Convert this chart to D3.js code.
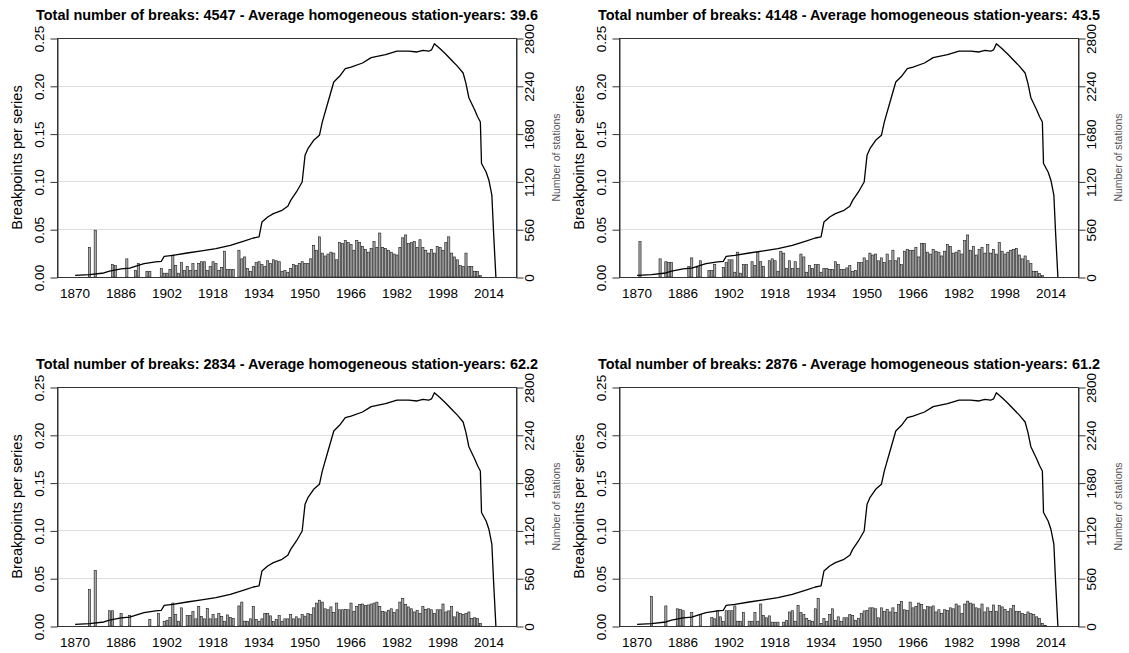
<!DOCTYPE html>
<html><head><meta charset="utf-8">
<script src="https://cdn.jsdelivr.net/npm/d3@7"></script>
<style>body{margin:0;background:#fff}svg{display:block}</style>
</head><body><svg id="c" width="1129" height="653"></svg>
<script>
// ---------- data ----------
const firstYear = 1870; // bar values below run yearly from 1870 to 2012
const xTickYears = [1870,1886,1902,1918,1934,1950,1966,1982,1998,2014];
const leftTicks = [0,0.05,0.10,0.15,0.20,0.25];
const rightTicks = [0,560,1120,1680,2240,2800];
const gridValues = [0.05,0.10,0.15,0.20];
const titles = [
  "Total number of breaks: 4547 - Average homogeneous station-years: 39.6",
  "Total number of breaks: 4148 - Average homogeneous station-years: 43.5",
  "Total number of breaks: 2834 - Average homogeneous station-years: 62.2",
  "Total number of breaks: 2876 - Average homogeneous station-years: 61.2"
];
const yLabel = "Breakpoints per series";
const y2Label = "Number of stations";

const breaks1 = [
  0,0,0,0,0,.031,0,.049,0,0,
  0,0,0,.013,.012,0,0,0,.019,0,
  0,.007,.014,0,0,.006,.006,0,0,0,
  .009,.004,.004,.008,.023,.012,.004,.015,.007,.011,
  .007,.014,.007,.014,.016,.016,.007,.011,.016,.014,
  .007,.010,.027,.008,.008,.008,0,.028,.019,.021,
  .009,.006,.011,.015,.016,.013,.011,.017,.014,.018,
  .017,.016,.006,.007,.005,.009,.013,.012,.014,.016,
  .014,.014,.019,.033,.028,.042,.025,.022,.024,.026,
  .025,.018,.036,.035,.038,.036,.034,.028,.038,.036,
  .032,.029,.026,.030,.037,.031,.046,.031,.030,.028,
  .026,.024,.023,.031,.041,.044,.035,.036,.037,.031,
  .039,.031,.028,.025,.029,.025,.032,.031,.028,.036,
  .042,.025,.021,.018,.012,.011,.025,.011,.011,.006,
  .006,.0014,0
];
const breaks2 = [
  0,.037,0,0,0,0,0,0,.019,0,
  .016,.015,.015,0,0,0,0,0,.011,.020,
  0,.010,.017,0,0,.007,.007,.013,0,0,
  .010,.015,.018,.018,.005,.026,.004,.013,.013,0,
  .016,.012,.026,.016,.011,0,.017,.019,.017,.006,
  .027,.025,.009,.017,.009,.016,.009,.024,.021,.005,
  .012,.009,.013,.013,.005,.009,.009,.008,.008,.016,
  .013,.008,.008,.0095,.012,.006,.007,.015,.015,.020,
  .017,.025,.023,.024,.017,.020,.015,.024,.017,.028,
  .017,.020,.013,.027,.029,.028,.028,.031,.021,.035,
  .035,.026,.024,.029,.027,.026,.022,.027,.034,.032,
  .025,.026,.028,.024,.038,.044,.028,.032,.023,.029,
  .031,.025,.034,.025,.029,.024,.036,.027,.024,.026,
  .028,.029,.030,.023,.019,.022,.017,.014,.006,.006,
  .0035,.0014,0
];
const breaks3 = [
  0,0,0,0,0,.038,0,.058,0,0,
  0,0,.016,.016,0,0,.013,0,0,.011,
  0,0,0,0,0,0,.007,0,0,.013,
  0,.005,.006,.009,.024,.012,.005,.019,0,.011,
  .011,.015,.0075,.0205,.010,.0075,.0185,.0075,.012,.0075,
  .013,.010,.005,.0116,.009,.008,0,.021,.025,.005,
  .005,.0075,.0205,.007,.005,.0075,.013,.013,.0106,.0045,
  .007,.011,.005,.0075,.0075,.012,.0075,.0096,.0075,.012,
  .0103,.013,.012,.019,.024,.027,.025,.018,.017,.020,
  .014,.024,.017,.017,.0175,.017,.024,.0154,.0205,.0226,
  .023,.0216,.022,.023,.024,.025,.0205,.0154,.0147,.0164,
  .018,.014,.017,.025,.029,.0226,.020,.018,.0147,.0164,
  .013,.0205,.0175,.018,.017,.013,.017,.017,.023,.0147,
  .0158,.0205,.0096,.0147,.013,.012,.013,.0147,.0079,.0086,
  .0079,.0027,0
];
const breaks4 = [
  0,0,0,0,0,.031,0,0,0,0,
  .021,0,0,0,.018,.0175,.016,0,0,.014,
  0,0,.012,0,0,0,.009,.0075,.016,.0096,
  .0045,.016,.016,.016,.021,.005,.005,.014,0,.005,
  .005,.014,.005,.023,.011,.0086,.0106,.004,.004,.004,
  0,.004,.006,.0147,.016,.005,.0216,.014,.012,.0079,
  .006,.005,.018,.029,.0027,.0079,.0045,.012,.018,.006,
  .0096,.005,.0086,.0086,.012,.011,.006,.0079,.013,.0158,
  .0164,.019,.019,.018,.0086,.019,.0154,.0175,.0147,.019,
  .014,.0226,.0257,.017,.0164,.025,.019,.0205,.024,.0226,
  .017,.0205,.020,.021,.0147,.017,.013,.017,.0164,.019,
  .018,.023,.021,.013,.023,.026,.024,.023,.019,.018,
  .023,.0147,.019,.0154,.022,.0154,.0216,.020,.0175,.0154,
  .018,.0216,.0154,.0154,.013,.012,.0147,.013,.012,.0096,
  .0079,.0027,.0007
];
const stationYears = [1870,1875,1880,1882,1886,1889,1892,1894,1898,1900,1901,1904,1909,1914,1919,1924,1929,1932,1934,1935,1937,1939,1942,1944,1945,1947,1949,1950,1951,1953,1955,1956,1958,1960,1962,1964,1966,1970,1973,1978,1982,1986,1989,1991,1993,1994,1995,1997,1999,2001,2003,2005,2006,2007,2009,2010,2011,2011.4,2013,2014,2015,2015.6,2016.4];
const stationCounts = [20,27,47,70,94,105,137,156,176,184,242,254,281,305,332,371,422,457,469,644,703,742,781,828,898,996,1113,1425,1503,1601,1660,1815,2050,2285,2351,2441,2460,2507,2570,2605,2647,2647,2636,2655,2645,2660,2733,2675,2610,2540,2470,2390,2265,2100,1960,1880,1816,1330,1230,1130,960,520,0];

// ---------- layout ----------
const FONT = "'Liberation Sans', Arial, Helvetica, sans-serif";
const L = 57, R = 516, T = 38, B = 277;
const panelOffsets = [[0,0],[562,0],[0,349],[562,349]];
const seriesList = [breaks1, breaks2, breaks3, breaks4];

const x = d3.scaleLinear().domain([1863.7, 2023.4]).range([L, R]);
const yL = d3.scaleLinear().domain([0, 0.25]).range([B, T]);
const yR = d3.scaleLinear().domain([0, 2800]).range([B, T]);

const svg = d3.select('#c');
svg.append('rect').attr('width',1129).attr('height',653).attr('fill','#fff');

const stationData = stationYears.map((yr,i)=>[yr, stationCounts[i]]);
const line = d3.line().x(d=>x(d[0])).y(d=>yR(d[1]));

seriesList.forEach((vals, pi) => {
  const [ox, oy] = panelOffsets[pi];
  const g = svg.append('g').attr('transform', `translate(${ox},${oy})`);
  const bars = vals.map((v,i)=>({year:firstYear+i, v})).filter(d=>d.v>0);

  // grid
  g.selectAll('line.grid').data(gridValues).join('line')
    .attr('x1', L).attr('x2', R)
    .attr('y1', d=>Math.round(yL(d))+0.5).attr('y2', d=>Math.round(yL(d))+0.5)
    .attr('stroke', '#dddddd').attr('stroke-width', 1);

  // bars
  g.selectAll('rect.bar').data(bars).join('rect')
    .attr('x', d=>x(d.year-0.38)).attr('width', d=>x(d.year+0.38)-x(d.year-0.38))
    .attr('y', d=>yL(d.v)).attr('height', d=>B-yL(d.v))
    .attr('fill', '#a8a8a8').attr('stroke', '#1a1a1a').attr('stroke-width', 0.6);

  // station line
  g.append('path').datum(stationData).attr('d', line)
    .attr('fill','none').attr('stroke','#000').attr('stroke-width',1.3)
    .attr('stroke-linejoin','round');

  // box
  g.append('rect').attr('x', L+0.5).attr('y', T+0.5).attr('width', R-L).attr('height', B-T)
    .attr('fill','none').attr('stroke','#333').attr('stroke-width',1);

  // left axis
  const ax = g.append('g').attr('transform', `translate(${L+0.5},0.5)`)
    .call(d3.axisLeft(yL).tickValues(leftTicks).tickFormat(d3.format('.2f')).tickSize(7).tickSizeOuter(0));
  ax.select('.domain').attr('stroke','#333');
  ax.selectAll('.tick line').attr('stroke','#333');
  ax.selectAll('.tick text').attr('x',0).attr('y',-14).attr('dy',null)
    .attr('transform','rotate(-90)').attr('text-anchor','middle')
    .style('font-family', FONT).style('font-size','13.5px').attr('fill','#000');

  // right axis
  const ar = g.append('g').attr('transform', `translate(${R+0.5},0.5)`)
    .call(d3.axisRight(yR).tickValues(rightTicks).tickFormat(d3.format('d')).tickSize(7).tickSizeOuter(0));
  ar.select('.domain').attr('stroke','#333');
  ar.selectAll('.tick line').attr('stroke','#333');
  ar.selectAll('.tick text').attr('x',0).attr('y',17).attr('dy',null)
    .attr('transform','rotate(-90)').attr('text-anchor','middle')
    .style('font-family', FONT).style('font-size','13.5px').attr('fill','#000');

  // x labels
  g.selectAll('text.xl').data(xTickYears).join('text')
    .attr('x', d=>x(d)).attr('y', 298).attr('text-anchor','middle')
    .style('font-family', FONT).style('font-size','13.5px').text(d=>d);

  // titles and axis titles
  g.append('text').attr('x', 287).attr('y', 20).attr('text-anchor','middle')
    .attr('textLength', 502).attr('lengthAdjust','spacingAndGlyphs')
    .style('font-family', FONT).style('font-size','14px').style('font-weight','bold')
    .text(titles[pi]);
  g.append('text').attr('transform', `translate(22,${(T+B)/2}) rotate(-90)`)
    .attr('text-anchor','middle').style('font-family', FONT).style('font-size','14.5px')
    .text(yLabel);
  g.append('text').attr('transform', `translate(559.5,${(T+B)/2}) rotate(-90)`)
    .attr('text-anchor','middle').style('font-family', FONT).style('font-size','10.5px')
    .attr('fill','#555').text(y2Label);
});
</script>
</body></html>
